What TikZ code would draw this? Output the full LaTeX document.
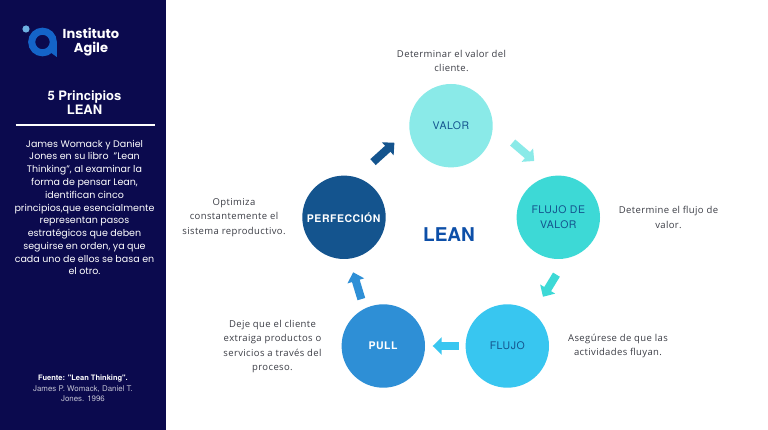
\documentclass[tikz,border=0pt]{standalone}
\usepackage{fontspec}
\setmainfont{Poppins}
\newfontfamily\notefont[LetterSpace=4]{Open Sans}
\newfontfamily\titlefont{TeX Gyre Heros}
\newfontfamily\circlefont[LetterSpace=5]{TeX Gyre Heros}
\usetikzlibrary{arrows.meta}
\definecolor{panelazul}{HTML}{0B0A4E}
\definecolor{cvalor}{HTML}{8AEAE8}
\definecolor{cflujovalor}{HTML}{3DD9D6}
\definecolor{cflujo}{HTML}{38C6F0}
\definecolor{cpull}{HTML}{2E8FD6}
\definecolor{cperf}{HTML}{14548E}
\definecolor{clean}{HTML}{0D4FA8}
\definecolor{clogo}{HTML}{1464C8}
\definecolor{cnota}{HTML}{3C3E46}
\tikzset{
  principio/.style={circle, minimum size=83.4pt, inner sep=0pt, align=center, font=\circlefont\fontsize{10.5}{14.5}\selectfont},
  nota/.style={align=center, text=cnota, font=\notefont\fontsize{9.5}{14.5}\selectfont},
  panel/.style={align=center, text=white},
  flecha/.style={line width=8pt, -{Triangle[length=9pt,width=17pt]}}
}
\begin{document}
\begin{tikzpicture}[x=1pt,y=-1pt]
  \useasboundingbox (0,0) rectangle (768,430);
  % Fondo
  \fill[white] (0,0) rectangle (768,430);
  \fill[panelazul] (0,0) rectangle (165.5,430);
  % Logo
  \fill[cpull!70!white] (26,29) circle (3.6pt);
  \draw[clogo, line width=7pt] (42.5,42) circle (10.8pt);
  \fill[clogo] (50,42) -- (56.8,42) -- (56.8,57) -- (50,52) -- cycle;
  \node[panel, anchor=west, inner sep=0pt, font=\fontsize{13}{14.5}\selectfont\bfseries] (logotexto) at (62.5,42) {Instituto\\Agile};
  % Panel izquierdo
  \node[panel, font=\titlefont\fontsize{13}{14}\selectfont\bfseries] (titulo) at (84.5,102.5) {5 Principios\\LEAN};
  \coordinate (reglaa) at (15.5,125);
  \coordinate (reglab) at (155,125);
  \draw[white, line width=2pt] (reglaa) -- (reglab);
  \node[panel, font=\fontsize{9.5}{12.77}\selectfont] (resumen) at (84.5,207.5) {James Womack y Daniel\\Jones en su libro \ "Lean\\Thinking", al examinar la\\forma de pensar Lean,\\identifican cinco\\principios,que esencialmente\\representan pasos\\estratégicos que deben\\seguirse en orden, ya que\\cada uno de ellos se basa en\\el otro.};
  \node[panel, font=\titlefont\fontsize{7.5}{10.3}\selectfont] (fuente) at (83,388.5) {\textbf{Fuente: "Lean Thinking".}\\\textcolor{white!75!panelazul}{\fontsize{7.9}{10.3}\selectfont James P. Womack, Daniel T.}\\\textcolor{white!75!panelazul}{\fontsize{7.9}{10.3}\selectfont Jones. 1996}};
  % Principios
  \node[principio, fill=cvalor, text=cperf] (valor) at (451,125.7) {VALOR};
  \node[principio, fill=cflujovalor, text=cperf] (flujovalor) at (558.3,217.3) {FLUJO DE\\VALOR};
  \node[principio, fill=cflujo, text=cperf] (flujo) at (507.3,346) {FLUJO};
  \node[principio, fill=cpull, text=white] (pull) at (383.3,346) {\textbf{PULL}};
  \node[principio, fill=cperf, text=white] (perfeccion) at (344,217.3) {\textbf{PERFECCIÓN}};
  \node[text=clean, font=\titlefont\fontsize{19}{22}\selectfont\bfseries] (lean) at (449,234.3) {LEAN};
  % Flechas
  \draw[flecha, cvalor, shorten <=26pt, shorten >=23pt] (valor.0) -- (flujovalor.99);
  \draw[flecha, cflujovalor, shorten <=19pt, shorten >=19pt] (flujovalor.-79) -- (flujo.52.5);
  \draw[flecha, cflujo, shorten <=6.5pt, shorten >=7.5pt] (flujo.180) -- (pull.0);
  \draw[flecha, cpull, shorten <=10pt, shorten >=14pt] (pull.117) -- (perfeccion.-83);
  \draw[flecha, cperf, shorten <=22.6pt, shorten >=20pt] (perfeccion.73) -- (valor.185);
  % Notas
  \node[nota] (notavalor) at (451.5,61) {Determinar el valor del\\cliente.};
  \node[nota] (notaflujovalor) at (668.5,217.5) {Determine el flujo de\\valor.};
  \node[nota] (notaflujo) at (618,346) {Asegúrese de que las\\actividades fluyan.};
  \node[nota] (notapull) at (272.5,346.5) {Deje que el cliente\\extraiga productos o\\servicios a través del\\proceso.};
  \node[nota] (notaperf) at (234,217.5) {Optimiza\\constantemente el\\sistema reproductivo.};
\end{tikzpicture}
\end{document}
